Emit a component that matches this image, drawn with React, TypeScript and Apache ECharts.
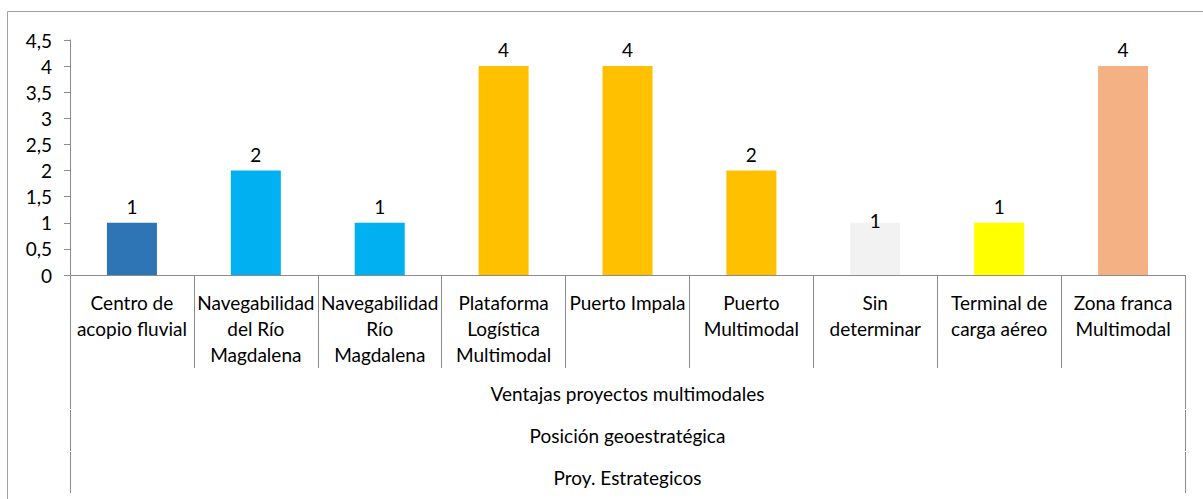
import React, { useEffect, useRef } from "react";
import * as echarts from "echarts";

const categories = [
  "Centro de\nacopio fluvial",
  "Navegabilidad\ndel Río\nMagdalena",
  "Navegabilidad\nRío\nMagdalena",
  "Plataforma\nLogística\nMultimodal",
  "Puerto Impala",
  "Puerto\nMultimodal",
  "Sin\ndeterminar",
  "Terminal de\ncarga aéreo",
  "Zona franca\nMultimodal",
];
const values = [1, 2, 1, 4, 4, 2, 1, 1, 4];
const barColors = ["#2E75B6", "#00B0F0", "#00B0F0", "#FFC000", "#FFC000", "#FFC000", "#F2F2F2", "#FFFF00", "#F4B183"];
const level2 = ["Ventajas proyectos multimodales"];
const level3 = ["Posición geoestratégica"];
const level4 = ["Proy. Estrategicos"];
const yMin = 0;
const yMax = 4.5;
const yInterval = 0.5;

const FONT = "Lato, Carlito, 'Liberation Sans', sans-serif";
const LINE = "#8C8C8C";
const FS = 19;

export default function App() {
  const ref = useRef<HTMLDivElement>(null);
  useEffect(() => {
    if (!ref.current) return;
    const chart = echarts.init(ref.current, undefined, { renderer: "svg" });
    const levelAxis = (data: string[], offset: number) => ({
      type: "category",
      gridIndex: 0,
      position: "bottom",
      offset,
      data,
      boundaryGap: true,
      axisLine: { show: false },
      axisTick: { show: true, length: 41, lineStyle: { color: LINE, width: 1 } },
      axisLabel: { color: "#000", fontSize: FS, fontFamily: FONT, margin: 16 },
      splitLine: { show: false },
    });
    chart.setOption({
      animation: false,
      textStyle: { fontFamily: FONT },
      graphic: [
        {
          type: "rect",
          shape: { x: 7.5, y: 11.5, width: 1200, height: 500 },
          style: { fill: "none", stroke: "#A0A0A0", lineWidth: 1 },
          silent: true,
        },
      ],
      grid: { left: 70, right: 18, top: 40, bottom: 224, containLabel: false },
      xAxis: [
        {
          type: "category",
          data: categories,
          boundaryGap: true,
          axisLine: { show: true, lineStyle: { color: LINE, width: 1 } },
          axisTick: { show: true, length: 93, interval: 0, lineStyle: { color: LINE, width: 1 } },
          axisLabel: {
            interval: 0,
            color: "#000",
            fontSize: FS,
            lineHeight: 26,
            fontFamily: FONT,
            margin: 14,
            align: "center",
            verticalAlign: "top",
          },
          splitLine: { show: false },
        },
        levelAxis(level2, 93),
        levelAxis(level3, 135),
        levelAxis(level4, 177),
      ],
      yAxis: {
        type: "value",
        min: yMin,
        max: yMax,
        interval: yInterval,
        axisLine: { show: true, lineStyle: { color: LINE, width: 1 } },
        axisTick: { show: true, inside: false, length: 6, lineStyle: { color: LINE } },
        axisLabel: {
          color: "#000",
          fontSize: FS,
          fontFamily: FONT,
          margin: 18,
          formatter: (v: number) => String(v).replace(".", ","),
        },
        splitLine: { show: false },
      },
      series: [
        {
          type: "bar",
          xAxisIndex: 0,
          barWidth: 50,
          data: values.map((v, i) => ({
            value: v,
            itemStyle: { color: barColors[i] },
            label: i === 6 ? { offset: [0, 14] } : undefined,
          })),
          label: {
            show: true,
            position: "top",
            distance: 7,
            color: "#000",
            fontSize: FS,
            fontFamily: FONT,
          },
        },
      ],
    });
    return () => chart.dispose();
  }, []);
  return (
    <div
      ref={ref}
      style={{ position: "absolute", left: 0, top: 0, width: 1203, height: 499, background: "#fff" }}
    />
  );
}
